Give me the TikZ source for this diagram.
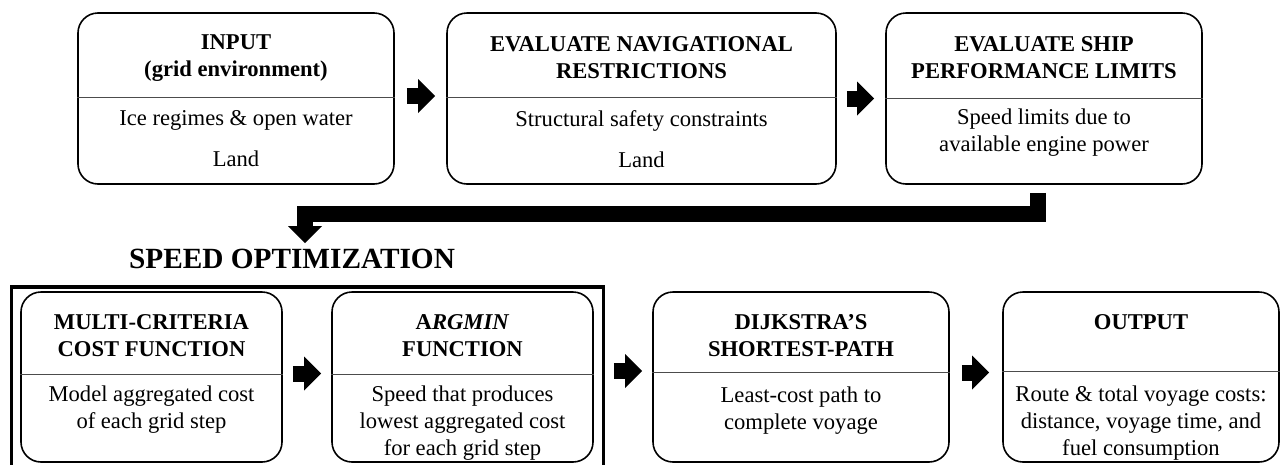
\documentclass[tikz,border=0pt]{standalone}
\usepackage{fontspec}
\setmainfont{Liberation Serif}
\usetikzlibrary{arrows.meta}
\begin{document}
\begin{tikzpicture}[x=1pt,y=-1pt,
  box/.style={draw, line width=1.6pt, rounded corners=20pt, minimum width=#1, minimum height=171pt, inner sep=0pt},
  lowbox/.style={box=#1, minimum height=170pt},
  divider/.style={line width=0.8pt, draw=black!70},
  txt/.style={align=center, font=\fontsize{22.6}{27}\selectfont, inner sep=0pt},
  ttl/.style={align=center, font=\bfseries\fontsize{22.6}{27}\selectfont, inner sep=0pt},
  blockarr/.style={line width=16pt, line join=miter, -{Triangle[length=17pt,width=34pt,line width=0pt]}},
  frame/.style={draw, line width=3.5pt, inner sep=0pt, anchor=north west}
]
\clip (0,0) rectangle (1280,464);
% container of the speed optimization stage
\node[frame, minimum width=592pt, minimum height=200pt] (fr) at (9.5,285) {};
\node[inner sep=0pt, font=\bfseries\fontsize{29.3}{35}\selectfont] (spd) at (292,259) {SPEED OPTIMIZATION};
% boxes
\node[box=316pt] (b1) at (236,98.5) {};
\node[box=389pt] (b2) at (641.5,98.5) {};
\node[box=316pt] (b3) at (1044,98.5) {};
\node[lowbox=261pt] (b4) at (151.5,377) {};
\node[lowbox=261pt] (b5) at (462.5,377) {};
\node[lowbox=296pt] (b6) at (801,377) {};
\node[lowbox=276pt] (b7) at (1141,377) {};
% dividers
\draw[divider] (b1.west |- 0,97) -- (b1.east |- 0,97);
\draw[divider] (b2.west |- 0,97) -- (b2.east |- 0,97);
\draw[divider] (b3.west |- 0,98) -- (b3.east |- 0,98);
\draw[divider] (b4.west |- 0,374) -- (b4.east |- 0,374);
\draw[divider] (b5.west |- 0,374) -- (b5.east |- 0,374);
\draw[divider] (b6.west |- 0,372.5) -- (b6.east |- 0,372.5);
\draw[divider] (b7.west |- 0,371) -- (b7.east |- 0,371);
% texts
\node[ttl] (t1) at (236,58) {INPUT\\(grid environment)};
\node[txt] (d1) at (236,139) {Ice regimes \& open water\\[14pt]Land};
\node[ttl] (t2) at (641.5,58) {EVALUATE NAVIGATIONAL\\RESTRICTIONS};
\node[txt] (d2) at (641.5,139) {Structural safety constraints\\[14pt]Land};
\node[ttl] (t3) at (1044,57.5) {EVALUATE SHIP\\PERFORMANCE LIMITS};
\node[txt] (d3) at (1044,133) {Speed limits due to\\available engine power};
\node[ttl] (t4) at (151.5,335.5) {MULTI-CRITERIA\\COST FUNCTION};
\node[txt] (d4) at (151.5,409.5) {Model aggregated cost\\of each grid step};
\node[ttl] (t5) at (462.5,335.5) {A\textit{RGMIN}\\FUNCTION};
\node[txt] (d5) at (462.5,423) {Speed that produces\\lowest aggregated cost\\for each grid step};
\node[ttl] (t6) at (801,335.5) {DIJKSTRA’S\\SHORTEST-PATH};
\node[txt] (d6) at (801,411) {Least-cost path to\\complete voyage};
\node[ttl] (t7) at (1141,322) {OUTPUT};
\node[txt] (d7) at (1141,423) {Route \& total voyage costs:\\distance, voyage time, and\\fuel consumption};
% block arrows
\draw[blockarr, shorten <=12pt, shorten >=11pt] ([yshift=2.5pt]b1.east) -- ([yshift=2.5pt]b2.west);
\draw[blockarr, shorten <=10pt, shorten >=11pt] (b2.east) -- (b3.west);
\draw[blockarr, shorten <=10pt, shorten >=10pt] ([yshift=3.5pt]b4.east) -- ([yshift=3.5pt]b5.west);
\draw[blockarr, shorten <=20pt, shorten >=10pt] ([yshift=6pt]b5.east) -- ([yshift=6pt]b6.west);
\draw[blockarr, shorten <=12pt, shorten >=13pt] ([yshift=4.5pt]b6.east) -- ([yshift=4.5pt]b7.west);
% elbow connector into the speed optimization stage
\coordinate (e0) at ([xshift=-6pt,yshift=-8pt]b3.south);
\coordinate (e1) at (305,214);
\coordinate (e2) at (305,243);
\draw[blockarr] (e0) |- (e1) -- (e2);
\end{tikzpicture}
\end{document}
